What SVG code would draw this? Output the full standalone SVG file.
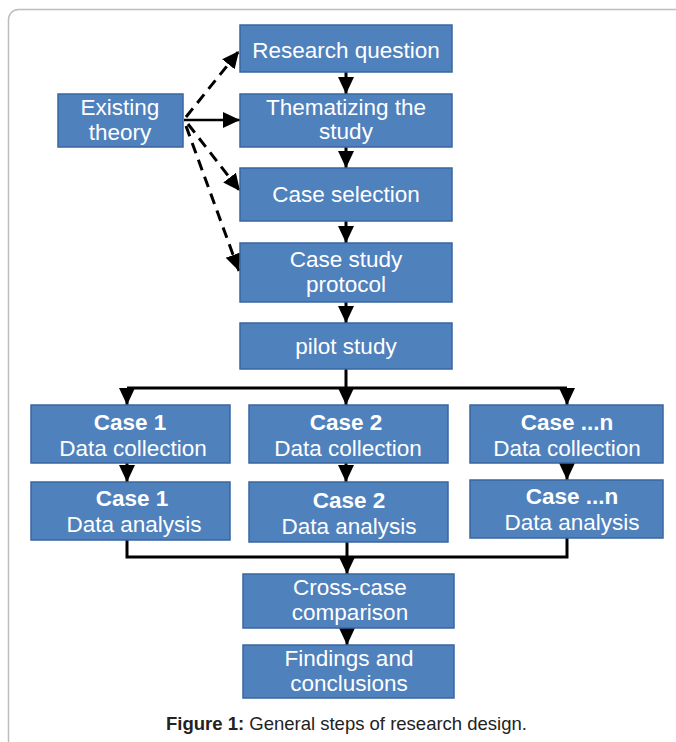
<svg xmlns="http://www.w3.org/2000/svg" width="676" height="742" viewBox="0 0 676 742">
<defs>
<marker id="ah" markerUnits="userSpaceOnUse" markerWidth="18" markerHeight="18" viewBox="0 0 18 18" refX="17" refY="9" orient="auto">
<path d="M0,1 L17,9 L0,17 z" fill="#000"/>
</marker>
<style>
.box{fill:#4F81BD;stroke:#3A66A0;stroke-width:1.5}
.t{font-family:"Liberation Sans",Arial,sans-serif;font-size:22.5px;fill:#fff;text-anchor:middle}
.b{font-weight:bold}
.c{fill:none;stroke:#000;stroke-width:3}
.a{marker-end:url(#ah)}
.d{stroke-dasharray:11 7}
</style>
</defs>
<rect width="676" height="742" fill="#fff"/>
<rect x="8.5" y="9.5" width="720" height="760" rx="10" fill="none" stroke="#bdbdbd" stroke-width="1.5"/>

<g id="connectors">
<path class="c d a" d="M186,117 L239,51"/>
<path class="c a" style="stroke-width:2.5" d="M184,120 L240,120"/>
<path class="c d a" d="M188,124 L240,191"/>
<path class="c d a" d="M186,126 L239,271"/>
<path class="c a" d="M346,72 V94"/>
<path class="c a" d="M346,147 V168"/>
<path class="c a" d="M346,221 V243"/>
<path class="c a" d="M346,302 V323"/>
<path class="c" d="M346,369 V388 M127,388 H567"/>
<path class="c a" d="M127,388 V405"/>
<path class="c a" d="M346,388 V405"/>
<path class="c a" d="M567,388 V405"/>
<path class="c a" d="M127,463 V482"/>
<path class="c a" d="M346,463 V482"/>
<path class="c a" d="M567,463 V480"/>
<path class="c" d="M127,540 V557 H567 V538"/>
<path class="c a" d="M347,542 V574"/>
<path class="c a" d="M347,628 V645"/>
</g>

<g id="research-question"><rect class="box" x="240" y="25" width="212" height="47"/><text class="t" x="346" y="58">Research question</text></g>
<g id="existing-theory"><rect class="box" x="58" y="94" width="125" height="53"/><text class="t" x="120" y="115">Existing</text><text class="t" x="120" y="140">theory</text></g>
<g id="thematizing"><rect class="box" x="240" y="94" width="212" height="53"/><text class="t" x="346" y="115">Thematizing the</text><text class="t" x="346" y="139">study</text></g>
<g id="case-selection"><rect class="box" x="240" y="168" width="212" height="53"/><text class="t" x="346" y="202">Case selection</text></g>
<g id="case-study-protocol"><rect class="box" x="240" y="243" width="212" height="59"/><text class="t" x="346" y="267">Case study</text><text class="t" x="346" y="292">protocol</text></g>
<g id="pilot-study"><rect class="box" x="240" y="323" width="212" height="46"/><text class="t" x="346" y="354">pilot study</text></g>

<g id="case1-collection"><rect class="box" x="31" y="405" width="199" height="58"/><text class="t b" x="130" y="430">Case 1</text><text class="t" x="133" y="456">Data collection</text></g>
<g id="case2-collection"><rect class="box" x="249" y="405" width="199" height="58"/><text class="t b" x="346" y="430">Case 2</text><text class="t" x="348" y="456">Data collection</text></g>
<g id="casen-collection"><rect class="box" x="470" y="405" width="193" height="58"/><text class="t b" x="567" y="430">Case ...n</text><text class="t" x="567" y="456">Data collection</text></g>

<g id="case1-analysis"><rect class="box" x="31" y="482" width="199" height="58"/><text class="t b" x="132" y="506">Case 1</text><text class="t" x="134" y="532">Data analysis</text></g>
<g id="case2-analysis"><rect class="box" x="249" y="482" width="199" height="60"/><text class="t b" x="349" y="508">Case 2</text><text class="t" x="349" y="534">Data analysis</text></g>
<g id="casen-analysis"><rect class="box" x="470" y="480" width="193" height="58"/><text class="t b" x="572" y="504">Case ...n</text><text class="t" x="572" y="530">Data analysis</text></g>

<g id="cross-case"><rect class="box" x="243" y="574" width="211" height="54"/><text class="t" x="350" y="595">Cross-case</text><text class="t" x="350" y="620">comparison</text></g>
<g id="findings"><rect class="box" x="243" y="645" width="211" height="53"/><text class="t" x="349" y="666">Findings and</text><text class="t" x="349" y="691">conclusions</text></g>

<text x="166" y="730" style="font-family:'Liberation Sans',Arial,sans-serif;font-size:18.5px;fill:#222"><tspan font-weight="bold">Figure 1:</tspan> General steps of research design.</text>
</svg>
